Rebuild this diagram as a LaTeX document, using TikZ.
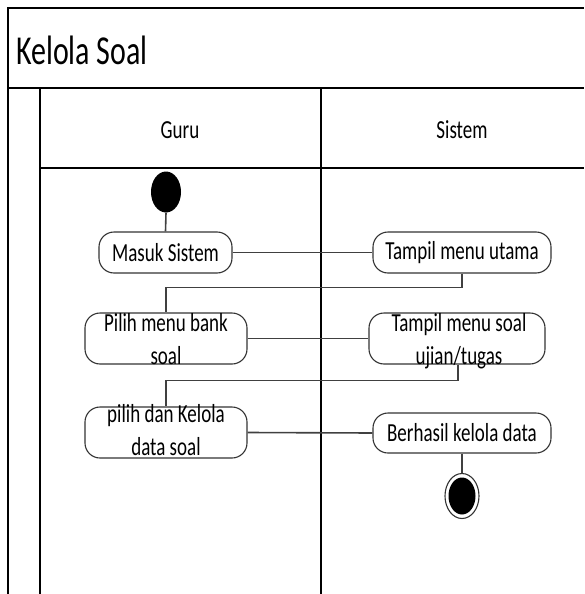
\documentclass[tikz,border=0pt]{standalone}
\usepackage{fontspec}
\setmainfont{Carlito}
\usetikzlibrary{shapes.geometric}
\newcommand\vsc[1]{\scalebox{1}[1.37]{#1}}
\newcommand\twol[2]{\vsc{\begin{tabular}{@{}c@{}}#1\\#2\end{tabular}}}
\tikzset{
  frame/.style={line width=1.1pt, draw=black},
  act/.style={draw=black!80, line width=1.1pt, rounded corners=15pt, fill=white, inner sep=0pt},
  txt/.style={inner sep=0pt, font=\fontsize{19}{24}\selectfont},
  conn/.style={draw=black!75, line width=1.6pt},
}
\begin{document}
\begin{tikzpicture}[x=1pt,y=-1pt]
\useasboundingbox (0,0) rectangle (584,594);
% frame and lanes
\draw[frame] (8,594) -- (8,8) -- (584,8);
\draw[frame] (8,88) -- (584,88);
\draw[frame] (40,88) -- (40,594);
\draw[frame] (321,88) -- (321,594);
\draw[frame] (40,168) -- (584,168);
\node[anchor=west, inner sep=0pt, font=\fontsize{30}{35}\selectfont] (title) at (16,50) {\vsc{Kelola Soal}};
\node[txt] (guru) at (180,130) {\vsc{Guru}};
\node[txt] (sistem) at (462,130) {\vsc{Sistem}};
% start
\node[ellipse, fill=black, minimum width=30pt, minimum height=41pt, inner sep=0pt] (start) at (166,192) {};
% activities
\node[act, minimum width=133pt, minimum height=41pt] (masuk) at (165.5,252.5) {};
\node[txt] (masukT) at (masuk) {\vsc{Masuk Sistem}};
\node[act, minimum width=178pt, minimum height=41pt] (utama) at (462,252.5) {};
\node[txt] (utamaT) at (utama) {\vsc{Tampil menu utama}};
\node[act, minimum width=162pt, minimum height=51pt] (bank) at (166,338.5) {};
\node[txt] (bankT) at (166,341) {\twol{Pilih menu bank}{soal}};
\node[act, minimum width=176pt, minimum height=51pt] (soal) at (457,338.5) {};
\node[txt] (soalT) at (459,341) {\twol{Tampil menu soal}{ujian/tugas}};
\node[act, minimum width=162pt, minimum height=51pt] (kelola) at (166,432.5) {};
\node[txt] (kelolaT) at (166,432) {\twol{pilih dan Kelola}{data soal}};
\node[act, minimum width=178pt, minimum height=40pt] (hasil) at (462,433) {};
\node[txt] (hasilT) at (hasil) {\vsc{Berhasil kelola data}};
% end
\node[ellipse, draw=black!80, line width=1.1pt, fill=white, minimum width=34pt, minimum height=45pt, inner sep=0pt] (end) at (462,496) {};
\node[ellipse, fill=black, minimum width=27pt, minimum height=37pt, inner sep=0pt] (endin) at (end) {};
% connectors
\draw[conn] (start.south) -- (masuk.north);
\draw[conn] (masuk.east) -- (utama.west);
\draw[conn] (utama.south) -- ++(0,14) -| (bank.north);
\draw[conn] (bank.east) -- (soal.west);
\draw[conn] ([xshift=1pt]soal.south) -- ++(0,16) -| (kelola.north);
\draw[conn] (kelola.east) -- (hasil.west);
\draw[conn] (hasil.south) -- (end.north);
\end{tikzpicture}
\end{document}
